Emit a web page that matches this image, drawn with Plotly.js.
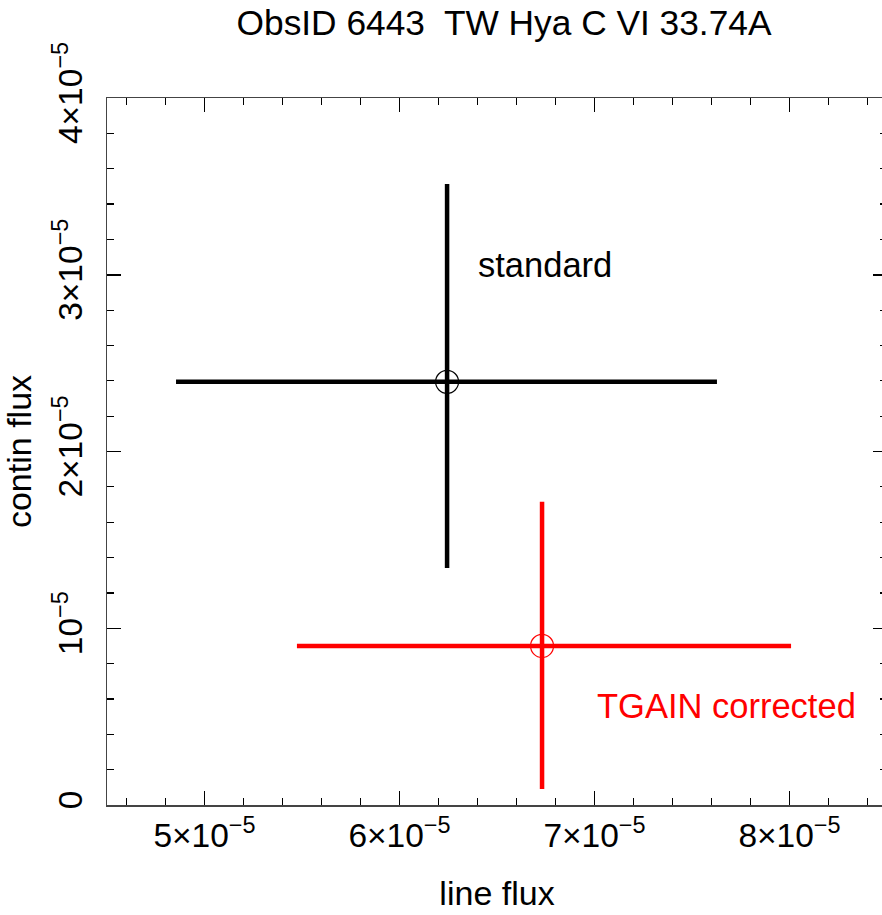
<!DOCTYPE html>
<html>
<head>
<meta charset="utf-8">
<script src="https://cdn.plot.ly/plotly-3.0.1.min.js"></script>
<style>html,body{margin:0;padding:0;overflow:hidden;background:#fff;}#plot{width:890px;height:915px;}</style>
</head>
<body>
<div id="plot"></div>
<script>
// Data (units of flux)
const seriesNames = ["standard", "TGAIN corrected"];
const seriesColors = ["#000000", "#ff0000"];
const lineFlux = [6.244e-5, 6.731e-5];
const lineFluxLow = [4.854e-5, 5.474e-5];
const lineFluxHigh = [7.628e-5, 8.008e-5];
const continFlux = [2.394e-5, 0.900e-5];
const continFluxLow = [1.341e-5, 0.091e-5];
const continFluxHigh = [3.514e-5, 1.715e-5];
const labelX = [6.39e-5, 7.005e-5];
const labelY = [3.056e-5, 0.56e-5];

const xTickVals = [5e-5, 6e-5, 7e-5, 8e-5];
const xTickText = ["5×10<sup>−5</sup>", "6×10<sup>−5</sup>", "7×10<sup>−5</sup>", "8×10<sup>−5</sup>"];
const yTickVals = [0, 1e-5, 2e-5, 3e-5, 4e-5];
const yTickText = ["0", "10<sup>−5</sup>", "2×10<sup>−5</sup>", "3×10<sup>−5</sup>", "4×10<sup>−5</sup>"];

const FONT = "Liberation Sans, Arial, Helvetica, sans-serif";

const traces = seriesNames.map((name, i) => ({
  type: "scatter",
  mode: "markers",
  name: name,
  x: [lineFlux[i]],
  y: [continFlux[i]],
  marker: {symbol: "circle-open", size: 23, color: seriesColors[i], line: {width: 1.2, color: seriesColors[i]}},
  error_x: {type: "data", symmetric: false, array: [lineFluxHigh[i] - lineFlux[i]], arrayminus: [lineFlux[i] - lineFluxLow[i]], color: seriesColors[i], thickness: 4.5, width: 0},
  error_y: {type: "data", symmetric: false, array: [continFluxHigh[i] - continFlux[i]], arrayminus: [continFlux[i] - continFluxLow[i]], color: seriesColors[i], thickness: 4.5, width: 0},
  hoverinfo: "x+y"
}));

const annotations = seriesNames.map((name, i) => ({
  x: labelX[i], y: labelY[i], xref: "x", yref: "y",
  text: name, showarrow: false, xanchor: "left", yanchor: "middle",
  font: {family: FONT, size: 34.5, color: seriesColors[i]}
}));

const axisCommon = {
  showgrid: false, zeroline: false, showline: true, linecolor: "#444", linewidth: 1.5,
  mirror: "ticks", ticks: "inside", ticklen: 14, tickwidth: 1.5, tickcolor: "#000",
  tickmode: "array", tickfont: {family: FONT, size: 33.5, color: "#000"},
  minor: {tickmode: "linear", tick0: 0, dtick: 2e-6, ticks: "inside", ticklen: 7, tickwidth: 1.2, tickcolor: "#000", showgrid: false}
};

const layout = {
  width: 890, height: 915,
  paper_bgcolor: "#fff", plot_bgcolor: "#fff",
  showlegend: false,
  margin: {l: 107, r: 3, t: 98, b: 110},
  title: {text: "ObsID 6443  TW Hya C VI 33.74A", font: {family: FONT, size: 35.3, color: "#000"}, xref: "paper", x: 0.509, xanchor: "center", yref: "container", y: 0.975, yanchor: "middle"},
  xaxis: Object.assign({}, axisCommon, {
    range: [4.5e-5, 8.5e-5], tickvals: xTickVals, ticktext: xTickText,
    title: {text: "line flux", font: {family: FONT, size: 34, color: "#000"}, standoff: 28}
  }),
  yaxis: Object.assign({}, axisCommon, {
    range: [0, 4e-5], tickvals: yTickVals, ticktext: yTickText, tickangle: -90, ticklabelstandoff: 10,
    title: {text: "contin flux", font: {family: FONT, size: 34, color: "#000"}, standoff: 10}
  }),
  annotations: annotations
};

Plotly.newPlot("plot", traces, layout, {displayModeBar: false, staticPlot: true});
</script>
</body>
</html>
